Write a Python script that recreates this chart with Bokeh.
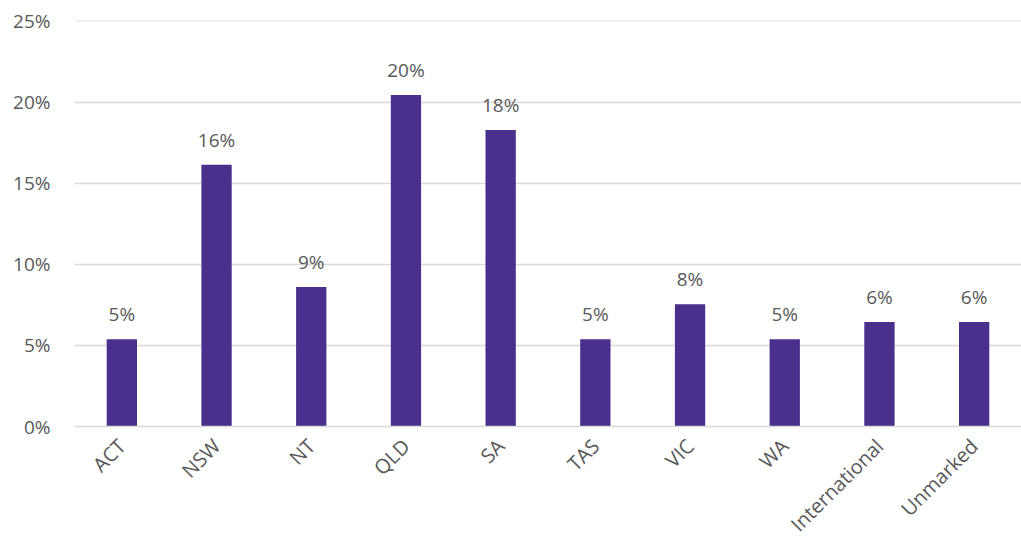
import math
from bokeh.plotting import figure
from bokeh.models import ColumnDataSource, Range1d, FactorRange, NumeralTickFormatter, LabelSet
from bokeh.core.properties import value
from bokeh.embed import file_html
from bokeh.resources import INLINE

categories = ["ACT", "NSW", "NT", "QLD", "SA", "TAS", "VIC", "WA", "International", "Unmarked"]
shares = [0.0538, 0.1613, 0.0860, 0.2043, 0.1828, 0.0538, 0.0753, 0.0538, 0.0645, 0.0645]
labels = [f"{round(v * 100)}%" for v in shares]

FONT = "Open Sans"
TXT = "#595959"
BAR = "#48308C"

src = ColumnDataSource(dict(cat=categories, val=shares, lab=labels))

p = figure(width=1021, height=549, x_range=FactorRange(*categories, range_padding=0),
           y_range=Range1d(0, 0.2503), output_backend="svg", toolbar_location=None,
           min_border_left=74, min_border_right=0, min_border_top=20, min_border_bottom=121)
p.outline_line_color = None
p.vbar(x="cat", top="val", width=0.32, source=src, fill_color=BAR, line_color=None)

p.add_layout(LabelSet(x="cat", y="val", text="lab", source=src, text_align="center",
                      text_baseline="bottom", y_offset=12, text_font=value(FONT),
                      text_font_size="19px", text_color=TXT))

p.yaxis.ticker = [0, 0.05, 0.10, 0.15, 0.20, 0.25]
p.yaxis.formatter = NumeralTickFormatter(format="0%")
p.yaxis.axis_line_color = None
p.yaxis.major_tick_line_color = None
p.yaxis.minor_tick_line_color = None
p.yaxis.major_label_text_font = FONT
p.yaxis.major_label_text_font_size = "19px"
p.yaxis.major_label_text_color = TXT
p.yaxis.major_label_standoff = 18

p.xaxis.axis_line_color = "#D9D9D9"
p.xaxis.axis_line_width = 1.5
p.xaxis.major_tick_line_color = None
p.xaxis.minor_tick_line_color = None
p.xaxis.major_label_orientation = math.pi / 4
p.xaxis.major_label_text_font = FONT
p.xaxis.major_label_text_font_size = "20px"
p.xaxis.major_label_text_color = TXT
p.xaxis.major_label_standoff = 10

p.xgrid.grid_line_color = None
p.ygrid.grid_line_color = "#D9D9D9"
p.ygrid.grid_line_width = 1.5

open("out.html", "w").write(file_html(p, INLINE))
